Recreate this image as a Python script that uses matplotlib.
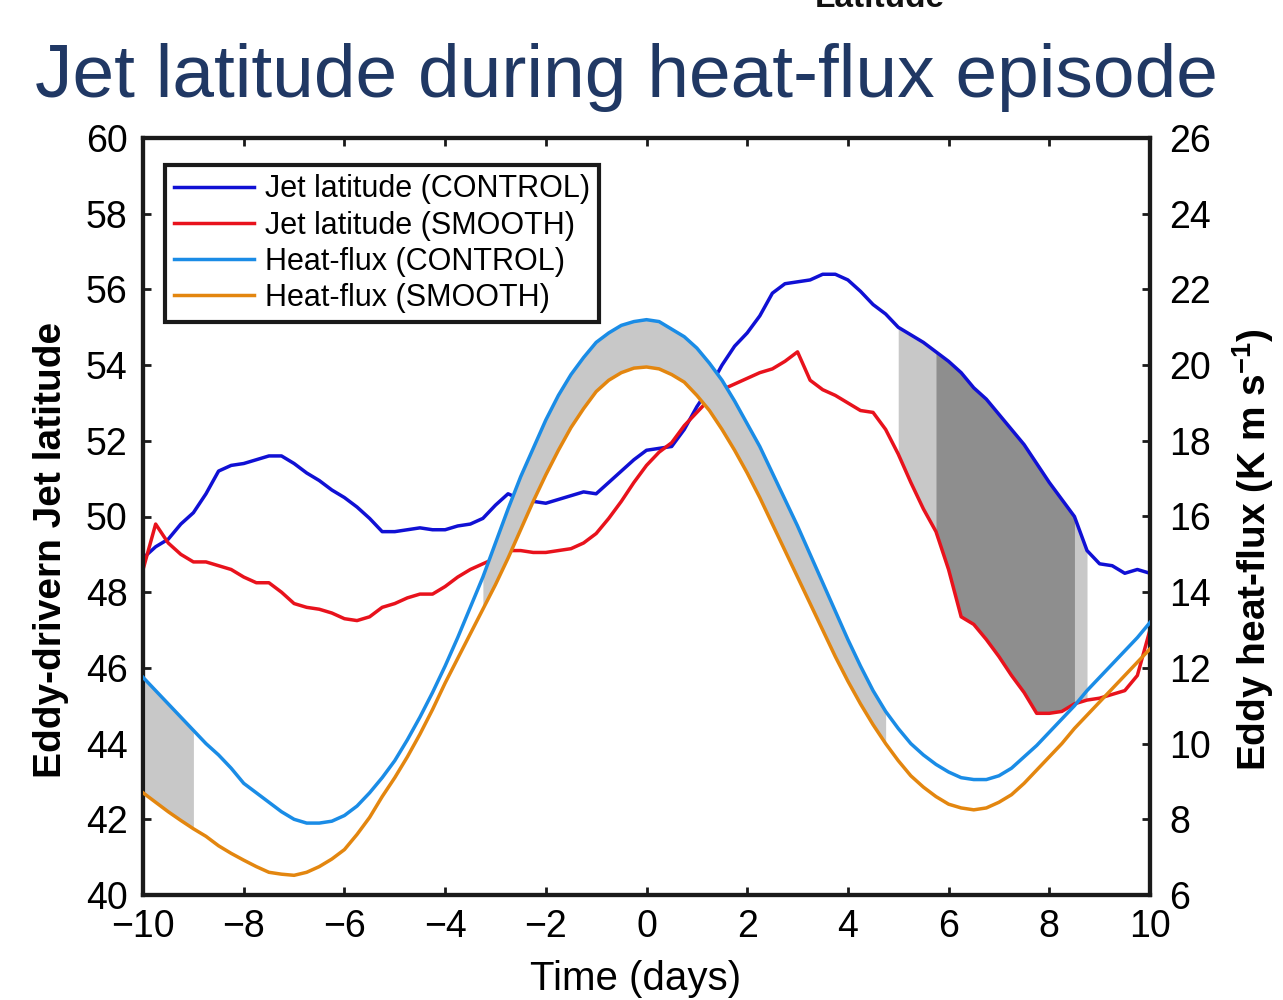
import numpy as np
import matplotlib
matplotlib.use("Agg")
import matplotlib.pyplot as plt

plt.rcParams['font.family'] = ['Liberation Sans', 'DejaVu Sans']
plt.rcParams['mathtext.fontset'] = 'custom'
plt.rcParams['mathtext.rm'] = 'Liberation Sans'
plt.rcParams['mathtext.bf'] = 'Liberation Sans:bold'

# time axis (days), 0.25 day steps
days = np.linspace(-10, 10, 81)

# jet latitude, CONTROL run
jet_control = [
    48.9, 49.2, 49.4, 49.8, 50.1, 50.6, 51.2, 51.35, 51.4, 51.5,
    51.6, 51.6, 51.4, 51.15, 50.95, 50.7, 50.5, 50.25, 49.95, 49.6,
    49.6, 49.65, 49.7, 49.65, 49.65, 49.75, 49.8, 49.95, 50.3, 50.6,
    50.45, 50.4, 50.35, 50.45, 50.55, 50.65, 50.6, 50.9, 51.2, 51.5,
    51.75, 51.8, 51.85, 52.3, 52.9, 53.4, 54.0, 54.5, 54.85, 55.3,
    55.9, 56.15, 56.2, 56.25, 56.4, 56.4, 56.25, 55.95, 55.6, 55.35,
    55.0, 54.8, 54.6, 54.35, 54.1, 53.8, 53.4, 53.1, 52.7, 52.3,
    51.9, 51.4, 50.9, 50.45, 50.0, 49.1, 48.75, 48.7, 48.5, 48.6,
    48.5,
]

# jet latitude, SMOOTH run
jet_smooth = [
    48.6, 49.8, 49.3, 49.0, 48.8, 48.8, 48.7, 48.6, 48.4, 48.25,
    48.25, 48.0, 47.7, 47.6, 47.55, 47.45, 47.3, 47.25, 47.35, 47.6,
    47.7, 47.85, 47.95, 47.95, 48.15, 48.4, 48.6, 48.75, 48.9, 49.1,
    49.1, 49.05, 49.05, 49.1, 49.15, 49.3, 49.55, 49.95, 50.4, 50.9,
    51.35, 51.7, 51.95, 52.4, 52.75, 53.1, 53.35, 53.5, 53.65, 53.8,
    53.9, 54.1, 54.35, 53.6, 53.35, 53.2, 53.0, 52.8, 52.75, 52.3,
    51.65, 50.9, 50.2, 49.6, 48.6, 47.35, 47.15, 46.75, 46.3, 45.8,
    45.35, 44.8, 44.8, 44.85, 45.05, 45.15, 45.2, 45.3, 45.4, 45.8,
    47.0,
]

# eddy heat-flux, CONTROL run
hf_control = [
    11.75, 11.4, 11.05, 10.7, 10.35, 10.0, 9.7, 9.35, 8.95, 8.7,
    8.45, 8.2, 8.0, 7.9, 7.9, 7.95, 8.1, 8.35, 8.7, 9.1,
    9.55, 10.1, 10.7, 11.35, 12.05, 12.8, 13.6, 14.4, 15.3, 16.2,
    17.05, 17.8, 18.55, 19.2, 19.75, 20.2, 20.6, 20.85, 21.05, 21.15,
    21.2, 21.15, 20.95, 20.75, 20.45, 20.05, 19.6, 19.05, 18.45, 17.85,
    17.15, 16.45, 15.75, 15.0, 14.25, 13.5, 12.75, 12.05, 11.4, 10.85,
    10.4, 10.0, 9.7, 9.45, 9.25, 9.1, 9.05, 9.05, 9.15, 9.35,
    9.65, 9.95, 10.3, 10.65, 11.0, 11.4, 11.75, 12.1, 12.45, 12.8,
    13.2,
]

# eddy heat-flux, SMOOTH run
hf_smooth = [
    8.7, 8.45, 8.2, 7.97, 7.75, 7.55, 7.3, 7.1, 6.92, 6.75,
    6.6, 6.55, 6.52, 6.6, 6.75, 6.95, 7.2, 7.6, 8.05, 8.6,
    9.1, 9.65, 10.25, 10.9, 11.6, 12.25, 12.9, 13.55, 14.2, 14.9,
    15.65, 16.4, 17.1, 17.75, 18.35, 18.85, 19.3, 19.6, 19.8, 19.92,
    19.95, 19.9, 19.75, 19.55, 19.2, 18.8, 18.3, 17.75, 17.15, 16.5,
    15.8, 15.1, 14.4, 13.7, 13.0, 12.3, 11.65, 11.05, 10.5, 10.0,
    9.55, 9.15, 8.85, 8.6, 8.4, 8.3, 8.25, 8.3, 8.45, 8.65,
    8.95, 9.3, 9.65, 10.0, 10.4, 10.75, 11.1, 11.45, 11.8, 12.15,
    12.5,
]

# shaded periods (days)
hf_windows = [(-10, -9), (-3.25, 4.75)]
jet_light = (5.0, 8.75)
jet_dark = (5.75, 8.5)

fig = plt.figure(figsize=(12.83, 10), dpi=100)
ax = fig.add_axes([0.1115, 0.105, 0.7848, 0.757])
ax2 = ax.twinx()

jc = np.array(jet_control)
js = np.array(jet_smooth)
hc = np.array(hf_control)
hs = np.array(hf_smooth)

# grey shading
m = (days >= jet_light[0] - 1e-9) & (days <= jet_light[1] + 1e-9)
ax.fill_between(days, js, jc, where=m, color='#c8c8c8', lw=0, zorder=1)
m = (days >= jet_dark[0] - 1e-9) & (days <= jet_dark[1] + 1e-9)
ax.fill_between(days, js, jc, where=m, color='#8e8e8e', lw=0, zorder=1)
for a, b in hf_windows:
    m = (days >= a - 1e-9) & (days <= b + 1e-9)
    ax2.fill_between(days, hs, hc, where=m, color='#c8c8c8', lw=0, zorder=1)

lw = 2.5
l1, = ax.plot(days, jc, color='#1010d4', lw=lw, zorder=3, label='Jet latitude (CONTROL)')
l2, = ax.plot(days, js, color='#e8121c', lw=lw, zorder=3, label='Jet latitude (SMOOTH)')
l3, = ax2.plot(days, hc, color='#1a8ce6', lw=lw, zorder=3, label='Heat-flux (CONTROL)')
l4, = ax2.plot(days, hs, color='#e3860f', lw=lw, zorder=3, label='Heat-flux (SMOOTH)')

ax.set_xlim(-10, 10)
ax.set_ylim(40, 60)
ax2.set_ylim(6, 26)
ax.set_xticks(np.arange(-10, 11, 2))
ax.set_yticks(np.arange(40, 61, 2))
ax2.set_yticks(np.arange(6, 27, 2))

for a in (ax, ax2):
    for s in a.spines.values():
        s.set_linewidth(3)
        s.set_color('#1a1a1a')
ax.tick_params(axis='both', direction='in', length=6, width=2, labelsize=27,
               top=True, right=False, color='#1a1a1a')
ax.tick_params(axis='y', pad=11)
ax.tick_params(axis='x', pad=10)
ax2.tick_params(axis='y', direction='in', length=6, width=2, labelsize=27,
                pad=14, color='#1a1a1a')

ax.set_xlabel('Time (days)', fontsize=29)
ax.xaxis.set_label_coords(0.489, -0.086)
ax.set_ylabel('Eddy-drivern Jet latitude', fontsize=28, fontweight='bold')
ax.yaxis.set_label_coords(-0.074, 0.456)
ax2.set_ylabel(r'Eddy heat-flux (K m s$^{\mathbf{-1}}$)', fontsize=28,
               fontweight='bold')
ax2.yaxis.set_label_coords(1.08, 0.456)

leg = ax2.legend(handles=[l1, l2, l3, l4], loc='upper left',
                 bbox_to_anchor=(0.022, 0.964), borderaxespad=0, fontsize=22,
                 frameon=True, fancybox=False, framealpha=1, edgecolor='#1a1a1a',
                 handlelength=2.6, handletextpad=0.35, labelspacing=0.2,
                 borderpad=0.3)
leg.get_frame().set_linewidth(3)
leg.set_zorder(5)

fig.text(0.027, 0.903, 'Jet latitude during heat-flux episode', fontsize=54,
         color='#203864', ha='left', va='baseline')
fig.text(0.686, 0.993, 'Latitude', fontsize=24, fontweight='bold',
         color='#111111', ha='center', va='baseline')

fig.savefig('out.png', dpi=100)
